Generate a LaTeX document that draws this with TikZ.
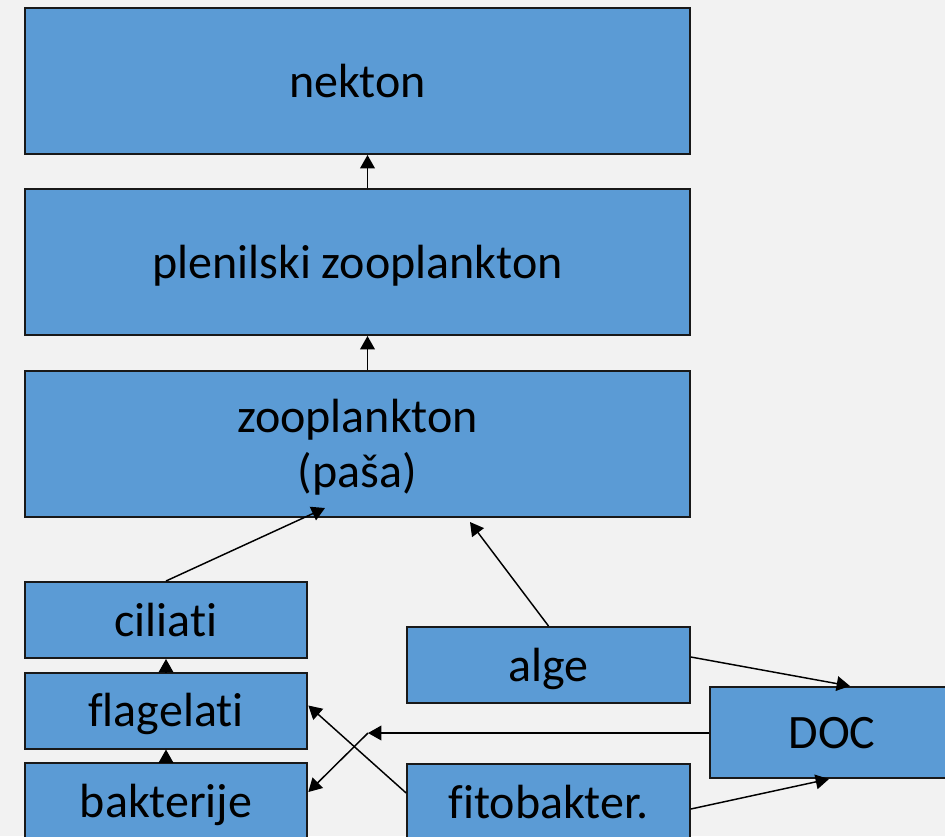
\documentclass[tikz,border=0pt]{standalone}
\usepackage{fontspec}
\setmainfont{Carlito}[Ligatures=NoCommon]
\usetikzlibrary{arrows.meta,calc}
\definecolor{boxblue}{HTML}{5B9BD5}
\definecolor{backgr}{HTML}{F2F2F2}
\newcommand{\tstrut}{\rule[-0.23em]{0pt}{1.13em}}

\begin{document}
\begin{tikzpicture}[x=0.75pt,y=-0.75pt,font=\fontsize{36}{41.25}\selectfont,
  box/.style={draw=black!90,line width=1.5pt,fill=boxblue,inner sep=0pt,align=center},
  oneline/.style={box,text height=32.4pt,text depth=8.3pt},
  wide/.style={minimum width=498.75pt,minimum height=109.5pt},
  narrow/.style={oneline,minimum width=212pt,minimum height=57pt},
  link/.style={-{Triangle[length=10pt,width=11pt]},line width=1.1pt}]
\fill[backgr] (0,0) rectangle (945,836);
\useasboundingbox (0,0) rectangle (945,836);
% upper chain
\node[oneline,wide] (nekton) at (357.5,81) {nekton};
\node[oneline,wide] (plenilski) at (357.5,262) {plenilski zooplankton};
\node[box,wide] (zoo) at (357.5,444) {\tstrut zooplankton\\(paša)\tstrut};
% microbial loop
\node[narrow] (ciliati) at (166,620) {ciliati};
\node[narrow] (flagelati) at (166,710.5) {flagelati};
\node[narrow] (bakterije) at (166,801) {bakterije};
\node[narrow] (alge) at (548.5,665) {alge};
\node[narrow] (fito) at (548.5,802) {fitobakter.};
\node[oneline,minimum width=183pt,minimum height=68.25pt] (doc) at (832,732.5) {DOC};
\coordinate (axis) at (367.5,0);
\coordinate (zooA) at (325,508);
\coordinate (zooB) at (470,522);
\coordinate (cross) at (368,733);
\draw[link] (axis |- plenilski.north) -- (axis |- nekton.south);
\draw[link] (axis |- zoo.north) -- (axis |- plenilski.south);
\draw[link] (ciliati.north) -- (zooA);
\draw[link] (flagelati.north) -- (ciliati.south);
\draw[link] (bakterije.north) -- (flagelati.south);
\draw[link] (alge.north) -- (zooB);
\draw[link] ($(alge.east)+(0,-8)$) -- ($(doc.north)+(18,0)$);
\draw[link] ($(fito.east)+(0,7)$) -- ($(doc.south)+(-3,0)$);
\draw[link] (doc.west |- cross) -- (cross);
\draw[link] (cross) -- ($(bakterije.east)+(0,-9)$);
\draw[link] ($(fito.west)+(0,-9)$) -- ($(flagelati.east)+(0,-5)$);
\end{tikzpicture}
\end{document}
